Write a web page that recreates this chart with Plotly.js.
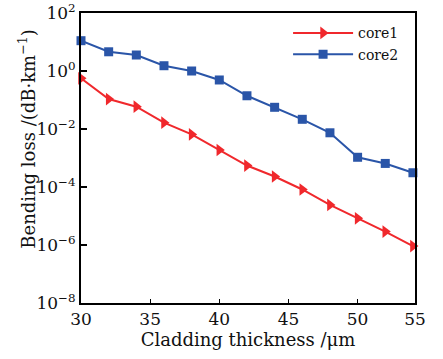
<!DOCTYPE html>
<html>
<head>
<meta charset="utf-8">
<script src="https://cdn.plot.ly/plotly-3.0.1.min.js"></script>
<style>html,body{margin:0;padding:0;background:#fff;}#chart{width:443px;height:359px;}</style>
</head>
<body>
<div id="chart"></div>
<script>
// Data
var thickness = [30, 32, 34, 36, 38, 40, 42, 44, 46, 48, 50, 52, 54];
var core1 = [0.56, 0.108, 0.0587, 0.0165, 0.0065, 0.00189, 0.00055, 0.00023, 8.2e-5, 2.4e-5, 8.3e-6, 2.9e-6, 9.2e-7];
var core2 = [11.1, 4.6, 3.56, 1.52, 1.0, 0.49, 0.14, 0.056, 0.0216, 0.0074, 0.00106, 0.00065, 0.00031];
var xEnd = 54.15;
var xTickVals = [30, 35, 40, 45, 50, xEnd];
var xTickText = ['30', '35', '40', '45', '50', '55'];
var yTickVals = [1e2, 1e0, 1e-2, 1e-4, 1e-6, 1e-8];
var yTickText = ['10<sup>2</sup>', '10<sup>0</sup>', '10<sup>\u22122</sup>', '10<sup>\u22124</sup>', '10<sup>\u22126</sup>', '10<sup>\u22128</sup>'];

var FONT = 'DejaVu Serif, serif';

var traces = [
  {x: thickness, y: core1, name: 'core1', type: 'scatter', mode: 'lines+markers',
   line: {color: '#f0282c', width: 2}, marker: {symbol: 'triangle-right', size: 11, color: '#f0282c'}, cliponaxis: false},
  {x: thickness, y: core2, name: 'core2', type: 'scatter', mode: 'lines+markers',
   line: {color: '#2a55a8', width: 2}, marker: {symbol: 'square', size: 9, color: '#2a55a8'}, cliponaxis: false}
];

var layout = {
  width: 443, height: 359,
  margin: {l: 81, r: 28, t: 13, b: 56},
  paper_bgcolor: '#fff', plot_bgcolor: '#fff',
  font: {family: FONT, color: '#111', size: 17},
  showlegend: true,
  legend: {x: 0.62, y: 0.985, xanchor: 'left', yanchor: 'top', bgcolor: 'rgba(0,0,0,0)',
           font: {family: FONT, size: 14, color: '#111'}, itemwidth: 60},
  xaxis: {
    range: [30, xEnd], showgrid: false, zeroline: false,
    showline: true, linecolor: '#000', linewidth: 2, mirror: true,
    ticks: 'inside', ticklen: 4, tickwidth: 1, tickcolor: '#000',
    tickmode: 'array', tickvals: xTickVals, ticktext: xTickText,
    tickfont: {family: FONT, size: 17, color: '#111'},
    title: {text: 'Cladding thickness /\u03bcm', font: {family: FONT, size: 18, color: '#111'}, standoff: 1}
  },
  yaxis: {
    type: 'log', range: [-8, 2], showgrid: false, zeroline: false,
    showline: true, linecolor: '#000', linewidth: 2, mirror: true,
    ticks: 'inside', ticklen: 6, tickwidth: 1.5, tickcolor: '#000',
    tickmode: 'array', tickvals: yTickVals, ticktext: yTickText,
    tickfont: {family: FONT, size: 17, color: '#111'}
  },
  yaxis2: {
    type: 'log', range: [-8, 2], overlaying: 'y', anchor: 'x', side: 'left',
    showgrid: false, zeroline: false, showline: false, showticklabels: false,
    tickmode: 'linear', dtick: 'D1', ticks: 'inside', ticklen: 3, tickwidth: 1, tickcolor: '#000'
  },
  annotations: [{
    text: 'Bending loss /(dB\u00b7km<sup>\u22121</sup>)', textangle: -90,
    xref: 'paper', yref: 'paper', x: -0.162, y: 0.566, xanchor: 'center', yanchor: 'middle',
    showarrow: false, font: {family: FONT, size: 18, color: '#111'}
  }]
};

Plotly.newPlot('chart', traces, layout, {displayModeBar: false});
</script>
</body>
</html>
